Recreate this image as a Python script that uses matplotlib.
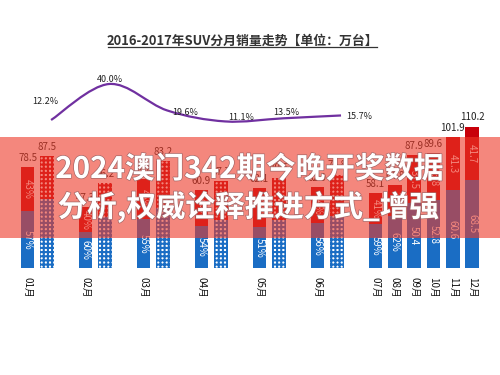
import numpy as np
import matplotlib
matplotlib.use('Agg')
import matplotlib.pyplot as plt
from matplotlib.path import Path
from matplotlib.patches import PathPatch, Rectangle
from matplotlib.lines import Line2D
import matplotlib.patheffects as pe

plt.rcParams['font.family'] = ['Noto Sans CJK SC', 'DejaVu Sans']
plt.rcParams['hatch.linewidth'] = 1.5

# data
months = ['01月', '02月', '03月', '04月', '05月', '06月',
          '07月', '08月', '09月', '10月', '11月', '12月']
total_2016 = [78.5, 47.3, 69.6, 60.9, 62.1, 62.9, 58.1, 64.8, 87.9, 89.6, 101.9, 110.2]
blue_2016 = [44.7, 28.4, 38.3, 32.9, 31.7, 35.2, 34.3, 40.2, 50.4, 52.8, 60.6, 68.5]
blue_labels = ['57%', '60%', '55%', '54%', '51%', '56%', '59%', '62%', '50.4', '52.8', '60.6', '68.5']
red_labels = ['43%', '40%', '45%', '46%', '49%', '44%', '41%', '38%', '37.5', '36.8', '41.3', '41.7']
total_2017 = [87.5, 66.2, 83.2, 67.7, 70.5, 72.8]
blue_2017 = [53.8, 39.7, 46.6, 37.2, 37.4, 40.8]
growth = [12.2, 40.0, 19.6, 11.1, 13.5, 15.7]
growth_labels = ['12.2%', '40.0%', '19.6%', '11.1%', '13.5%', '15.7%']

title = '2016-2017年SUV分月销量走势【单位：万台】'
banner1 = '2024澳门342期今晚开奖数据'
banner2 = '分析,权威诠释推进方式_增强'

BLUE = '#1a6dc4'
RED = '#c8000a'
PURPLE = '#7030a0'

# slot positions: pairs for first half year, single bars after
x16 = np.array([3 * i if i < 6 else 18 + (i - 6) for i in range(12)], dtype=float)
x17 = x16[:6] + 1
W = 0.7

fig = plt.figure(figsize=(5, 3.75), dpi=100)
ax = fig.add_axes([0, 0, 1, 1])
ax.set_xlim(-27.5 / 19.33, 472.5 / 19.33)
ax.set_ylim(-107 / 1.283, 268 / 1.283)
ax.axis('off')

red_2016 = np.array(total_2016) - np.array(blue_2016)
red_2017 = np.array(total_2017) - np.array(blue_2017)

ax.bar(x16, blue_2016, width=W, color=BLUE, linewidth=0)
ax.bar(x16, red_2016, bottom=blue_2016, width=W, color=RED, linewidth=0)
ax.bar(x17, blue_2017, width=W, facecolor='white', edgecolor=BLUE, hatch='++++', linewidth=0)
ax.bar(x17, red_2017, bottom=blue_2017, width=W, facecolor='white', edgecolor=RED, hatch='++++', linewidth=0)

for x, b, r, lb, lr, t in zip(x16, blue_2016, red_2016, blue_labels, red_labels, total_2016):
    ax.text(x, b / 2, lb, rotation=-90, ha='center', va='center', color='white', fontsize=7)
    ax.text(x, b + r / 2, lr, rotation=-90, ha='center', va='center', color='white', fontsize=7)
    ax.annotate('%.1f' % t, (x, t), xytext=(0, 3), textcoords='offset points',
                ha='center', va='bottom', fontsize=7, color='#222222')
for x, t in zip(x17, total_2017):
    ax.annotate('%.1f' % t, (x, t), xytext=(0, 3), textcoords='offset points',
                ha='center', va='bottom', fontsize=7, color='#222222')

for x, m in zip(x16, months):
    ax.text(x, -7, m, rotation=-90, ha='center', va='top', fontsize=7, color='#111111')

# growth line on its own scale
ax2 = ax.twinx()
ax2.set_ylim(12.2 - 255 / 1.295, 12.2 + 120 / 1.295)
ax2.axis('off')
lx = x17 + 0.22
pts = np.column_stack([lx, growth])
ext = np.vstack([pts[0], pts, pts[-1]])
verts = [tuple(pts[0])]
codes = [Path.MOVETO]
for i in range(len(pts) - 1):
    p0, p1, p2, p3 = ext[i], ext[i + 1], ext[i + 2], ext[i + 3]
    c1 = p1 + (p2 - p0) / 6
    c2 = p2 - (p3 - p1) / 6
    verts += [tuple(c1), tuple(c2), tuple(p2)]
    codes += [Path.CURVE4] * 3
ax2.add_patch(PathPatch(Path(verts, codes), fill=False, edgecolor=PURPLE, lw=1.6))

offs = [(-6, 18), (1, 4), (18, -2), (16, 4), (3, 6), (18, -1.5)]
for x, g, s, o in zip(lx, growth, growth_labels, offs):
    ax2.annotate(s, (x, g), xytext=o, textcoords='offset pixels', ha='center', va='center',
                 fontsize=6.5, color='#222222', fontweight='medium')

# title with underline
fig.text(0.485, 1 - 41 / 375, title, ha='center', va='center', fontsize=9.3,
         fontweight='bold', color='#333333')
fig.add_artist(Line2D([108 / 500, 377 / 500], [1 - 46.5 / 375] * 2, color='#333333', lw=0.9))

# overlay banner
fig.add_artist(Rectangle((0, 1 - 238 / 375), 1, 101 / 375, transform=fig.transFigure,
                         facecolor=(0.93, 0.22, 0.15), alpha=0.6, linewidth=0, zorder=10))
fx = [pe.withStroke(linewidth=1.0, foreground=(0.65, 0.4, 0.4))]
fig.text(0.499, 1 - 169 / 375, banner1, ha='center', va='center', fontsize=21.3,
         fontweight='bold', color='white', zorder=11, path_effects=fx)
fig.text(0.497, 1 - 207 / 375, banner2, ha='center', va='center', fontsize=21.3,
         fontweight='bold', color='white', zorder=11, path_effects=fx)

fig.savefig('out.png', dpi=100)
